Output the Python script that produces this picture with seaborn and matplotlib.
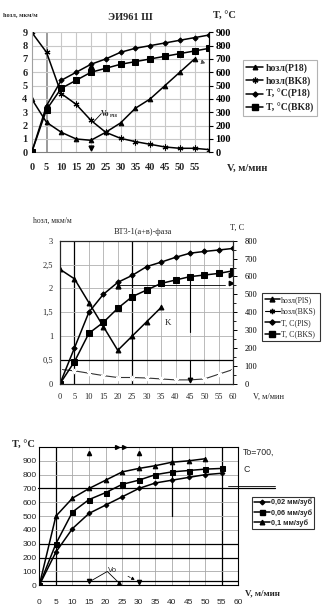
import matplotlib
matplotlib.use("Agg")
import matplotlib.pyplot as plt
from matplotlib.lines import Line2D
import seaborn as sns

# ---------------- data ----------------
V13 = [0, 5, 10, 15, 20, 25, 30, 35, 40, 45, 50, 55, 60]

# Panel 1: ЭИ961 Ш
p1_h_p18_v = [0, 5, 10, 15, 20, 25, 30, 35, 40, 45, 50, 55]
p1_h_p18 = [4.0, 2.25, 1.5, 1.0, 0.9, 1.5, 2.2, 3.3, 4.0, 5.0, 6.0, 7.0]
p1_h_bk8 = [9.0, 7.5, 4.4, 3.6, 2.4, 1.5, 1.05, 0.8, 0.6, 0.4, 0.3, 0.3, 0.2]
p1_t_p18 = [0, 350, 540, 600, 660, 700, 750, 780, 800, 820, 840, 860, 880]
p1_t_bk8 = [0, 320, 480, 540, 600, 630, 660, 680, 700, 720, 740, 760, 780]
p1_labels = ["hозл(P18)", "hозл(BK8)", "T, °C(P18)", "T, °C(BK8)"]

# Panel 2: ВТ3-1 (a+в)-фаза
p2_h_p18_v = [0, 5, 10, 15, 20, 25, 30, 35]
p2_h_p18 = [2.4, 2.2, 1.7, 1.2, 0.7, 1.0, 1.3, 1.6]
p2_h_bk8 = [0.3, 0.27, 0.22, 0.17, 0.13, 0.13, 0.12, 0.1, 0.08, 0.08, 0.1, 0.2, 0.3]
p2_t_p18 = [0, 200, 400, 500, 567, 606, 655, 680, 707, 730, 740, 748, 757]
p2_t_bk8 = [0, 123, 282, 343, 422, 487, 524, 561, 580, 599, 608, 617, 632]
p2_labels = ["hозл(PlS)", "hозл(BKS)", "T, C(PlS)", "T, C(BKS)"]

# Panel 3: T vs V for feeds
p3_v_a = [0, 5, 10, 15, 20, 25, 30, 35, 40, 45, 50, 55]
p3_t_002 = [0, 240, 410, 520, 580, 640, 700, 740, 760, 780, 800, 810]
p3_t_006 = [0, 300, 530, 620, 670, 730, 760, 800, 820, 830, 840, 845]
p3_v_c = [0, 5, 10, 15, 20, 25, 30, 35, 40, 45, 50]
p3_t_01 = [0, 500, 630, 700, 760, 820, 845, 865, 890, 900, 915]
p3_labels = ["0,02 мм/зуб", "0,06 мм/зуб", "0,1 мм/зуб"]

# ---------------- style ----------------
sns.set_theme(style="white")
plt.rcParams["font.family"] = ["Liberation Serif", "DejaVu Serif"]
plt.rcParams["axes.linewidth"] = 0.8

W, H = 332, 615
fig = plt.figure(figsize=(W / 100, H / 100), dpi=100)


def box(x0, x1, y_top, y_bot):
    return [x0 / W, 1 - y_bot / H, (x1 - x0) / W, (y_bot - y_top) / H]


SERIF = ["Liberation Serif", "DejaVu Serif"]
SANS = ["Liberation Sans", "DejaVu Sans"]
BLK = "black"

# ================= Panel 1 =================
ax1 = fig.add_axes(box(31.7, 209.3, 32.3, 152.3))
ax1.set_xlim(0, 60)
ax1.set_ylim(0, 9)
for v in range(5, 60, 5):
    ax1.axvline(v, color="#9a9a9a" if v == 5 else "#c8c8c8",
                lw=1.4 if v == 5 else 0.8, zorder=0)
for h in range(1, 10):
    ax1.axhline(h, color="#c8c8c8", lw=0.8, zorder=0)
ax1.spines["top"].set_visible(False)
ax1.spines["left"].set_color("#a0a0a0")
ax1.spines["bottom"].set_color("#808080")
ax1.spines["right"].set_color(BLK)

kw = dict(color=BLK, linewidth=1.1, markeredgecolor=BLK, legend=False)
sns.lineplot(x=p1_h_p18_v, y=p1_h_p18, ax=ax1, marker="^", markersize=3.3, **kw)
sns.lineplot(x=V13, y=p1_h_bk8, ax=ax1, marker=(6, 2, 0), markersize=4.2,
             markeredgewidth=0.8, **kw)
ax1r = ax1.twinx()
ax1r.set_ylim(0, 900)
sns.lineplot(x=V13, y=p1_t_p18, ax=ax1r, marker="D", markersize=2.6, **kw)
sns.lineplot(x=V13, y=p1_t_bk8, ax=ax1r, marker="s", markersize=3.8, **kw)
ax1r.set_xlim(0, 60)
for s in ["top", "left", "bottom"]:
    ax1r.spines[s].set_visible(False)
ax1r.spines["right"].set_color(BLK)

f1 = dict(family=SERIF, weight="bold", size=7.5)
ax1.set_yticks(range(10))
ax1.set_yticklabels([str(i) for i in range(10)], fontdict=f1)
ax1.set_xticks(range(0, 60, 5))
ax1.set_xticklabels([str(v) for v in range(0, 60, 5)], fontdict=f1)
ax1.tick_params(axis="y", length=0, pad=3)
ax1.tick_params(axis="x", length=0, pad=8)
ax1r.set_yticks(range(0, 901, 100))
ax1r.set_yticklabels([str(v) for v in range(0, 901, 100)], fontdict=f1)
ax1r.tick_params(axis="y", length=3, width=0.8, direction="out", pad=1.5,
                 colors=BLK)
ax1.set_xlabel("")
ax1.set_ylabel("")
ax1r.set_ylabel("")

# annotations panel 1
ax1.plot([20], [6.45], marker="^", color=BLK, markersize=3.5)
ax1.plot([20], [0.3], marker="v", color=BLK, markersize=3.5)
ax1.plot([21.0, 23.5], [2.3, 2.9], color=BLK, lw=0.6)
ax1.text(23.3, 2.75, "Vo", fontsize=5.5, family=SERIF, weight="bold")
ax1.text(26.3, 2.65, "P18", fontsize=3.5, family=SERIF, weight="bold")
ax1.annotate("", xy=(59.6, 6.6), xytext=(56.5, 6.85),
             arrowprops=dict(arrowstyle="-|>", lw=0.6, color="#555555",
                             linestyle="--", mutation_scale=6))

fig.text(3 / W, 1 - 15 / H, "hозл, мкм/м", family=SERIF, weight="bold",
         size=4.6, va="center")
fig.text(130 / W, 1 - 18 / H, "ЭИ961 Ш", family=SERIF, weight="bold",
         size=7.5, ha="center", va="center")
fig.text(213 / W, 1 - 15 / H, "T, °C", family=SERIF, weight="bold",
         size=7.5, va="center")
fig.text(227 / W, 1 - 168 / H, "V, м/мин", family=SERIF, weight="bold",
         size=7.5, va="center")

h1 = [Line2D([], [], color=BLK, lw=1.1, marker="^", markersize=3.3),
      Line2D([], [], color=BLK, lw=1.1, marker=(6, 2, 0), markersize=4.2),
      Line2D([], [], color=BLK, lw=1.1, marker="D", markersize=2.6),
      Line2D([], [], color=BLK, lw=1.1, marker="s", markersize=3.8)]
lg1 = fig.legend(h1, p1_labels, loc="upper left",
                 bbox_to_anchor=(243 / W, 1 - 60 / H),
                 prop=dict(family=SERIF, weight="bold", size=7),
                 frameon=True, fancybox=False, edgecolor="#a0a0a0",
                 handlelength=1.7, handletextpad=0.3, labelspacing=0.35,
                 borderpad=0.35, borderaxespad=0)
lg1.get_frame().set_linewidth(0.8)

# ================= Panel 2 =================
ax2 = fig.add_axes(box(60, 233.3, 240.7, 383.7))
ax2.set_xlim(0, 60)
ax2.set_ylim(0, 3)
for v in range(5, 60, 5):
    blackline = v in (5, 25)
    ax2.axvline(v, color=BLK if blackline else "#b0b0b0",
                lw=0.9 if blackline else 0.6, zorder=0)
for h in [0.5, 1.0, 1.5, 2.0, 2.5]:
    ax2.axhline(h, color=BLK if h == 0.5 else "#b0b0b0",
                lw=0.9 if h == 0.5 else 0.6, zorder=0)
for s in ax2.spines.values():
    s.set_color(BLK)

kw2 = dict(color=BLK, linewidth=1.1, markeredgecolor=BLK, legend=False)
sns.lineplot(x=p2_h_p18_v, y=p2_h_p18, ax=ax2, marker="^", markersize=3.5, **kw2)
sns.lineplot(x=V13, y=p2_h_bk8, ax=ax2, marker=(6, 2, 0), markersize=3.8,
             markeredgewidth=0.5, color="#333333", linewidth=0.8,
             legend=False)
ax2r = ax2.twinx()
ax2r.set_ylim(0, 800)
ax2r.set_xlim(0, 60)
sns.lineplot(x=V13, y=p2_t_p18, ax=ax2r, marker="D", markersize=2.7, **kw2)
sns.lineplot(x=V13, y=p2_t_bk8, ax=ax2r, marker="s", markersize=4, **kw2)

f2 = dict(family=SERIF, size=6)
ax2.set_yticks([0, 0.5, 1, 1.5, 2, 2.5, 3])
ax2.set_yticklabels(["0", "0,5", "1", "1,5", "2", "2,5", "3"], fontdict=f2)
ax2.set_xticks(range(0, 61, 5))
ax2.set_xticklabels([str(v) for v in range(0, 61, 5)], fontdict=f2)
ax2.tick_params(axis="y", length=0, pad=5)
ax2.tick_params(axis="x", length=0, pad=7)
ax2r.set_yticks(range(0, 801, 100))
ax2r.set_yticklabels([str(v) for v in range(0, 801, 100)], fontdict=f2)
ax2r.set_yticks(range(50, 800, 100), minor=True)
ax2r.tick_params(axis="y", which="major", length=3, width=0.7,
                 direction="out", pad=5, colors=BLK)
ax2r.tick_params(axis="y", which="minor", length=2, width=0.6,
                 direction="out", colors=BLK, left=False, right=True)
for a in (ax2, ax2r):
    a.set_xlabel("")
    a.set_ylabel("")

# annotations panel 2
ax2.plot([20], [2.05], marker="^", color=BLK, markersize=3.5)
ax2.plot([20, 57], [2.08, 2.08], color=BLK, lw=0.6)
ax2.plot([45, 45], [2.28, 1.09], color=BLK, lw=0.8)
ax2.plot([45, 45], [0.5, 0.05], color=BLK, lw=0.8)
ax2.plot([45], [0.08], marker="v", color=BLK, markersize=3.2)
ax2.plot([59.3, 59.3], [2.29, 2.12], ls="none", marker=">", color=BLK,
         markersize=3.2)
ax2.text(36.3, 1.28, "K", family=SERIF, size=6.5, va="center")

fig.text(33 / W, 1 - 221 / H, "hозл, мкм/м", family=SERIF, size=5.5,
         va="center")
fig.text(143 / W, 1 - 232 / H, "ВТ3-1(a+в)-фаза", family=SERIF, size=6,
         ha="center", va="center")
fig.text(230 / W, 1 - 228 / H, "T, C", family=SERIF, size=6, va="center")
fig.text(253 / W, 1 - 397 / H, "V, м/мин", family=SERIF, size=6,
         va="center")

h2 = [Line2D([], [], color=BLK, lw=1.1, marker="^", markersize=3.5),
      Line2D([], [], color=BLK, lw=0.8, marker=(6, 2, 0), markersize=3.8),
      Line2D([], [], color=BLK, lw=1.1, marker="D", markersize=2.7),
      Line2D([], [], color=BLK, lw=1.1, marker="s", markersize=4)]
lg2 = fig.legend(h2, p2_labels, loc="upper left",
                 bbox_to_anchor=(262 / W, 1 - 293 / H),
                 prop=dict(family=SERIF, size=5.7),
                 frameon=True, fancybox=False, edgecolor=BLK,
                 handlelength=1.9, handletextpad=0.2, labelspacing=0.45,
                 borderpad=0.35, borderaxespad=0)
lg2.get_frame().set_linewidth(0.8)

# ================= Panel 3 =================
ax3 = fig.add_axes(box(39.3, 238.3, 447, 585.3))
ax3.set_xlim(0, 60)
ax3.set_ylim(0, 1000)
for v in range(5, 60, 5):
    blackline = v in (5, 55)
    ax3.axvline(v, color=BLK if blackline else "#a8a8a8",
                lw=0.9 if blackline else 0.6, zorder=0)
for h in range(100, 1000, 100):
    blackline = h in (200, 300)
    ax3.axhline(h, color=BLK if blackline else "#a8a8a8",
                lw=0.9 if blackline else 0.6, zorder=0)
ax3.axhline(33, color=BLK, lw=0.9, zorder=0)
for s in ax3.spines.values():
    s.set_color(BLK)

kw3 = dict(color=BLK, linewidth=1.1, markeredgecolor=BLK, legend=False)
sns.lineplot(x=p3_v_a, y=p3_t_002, ax=ax3, marker="D", markersize=2.4, **kw3)
sns.lineplot(x=p3_v_a, y=p3_t_006, ax=ax3, marker="s", markersize=3.6, **kw3)
sns.lineplot(x=p3_v_c, y=p3_t_01, ax=ax3, marker="^", markersize=3.3, **kw3)

f3 = dict(family=SANS, size=6)
ax3.set_yticks(range(0, 901, 100))
ax3.set_yticklabels([str(v) for v in range(0, 901, 100)], fontdict=f3)
ax3.set_xticks(range(0, 61, 5))
ax3.set_xticklabels([str(v) for v in range(0, 61, 5)], fontdict=f3)
ax3.tick_params(axis="y", length=0, pad=2)
ax3.tick_params(axis="x", length=0, pad=10)
ax3.set_xlabel("")
ax3.set_ylabel("")

# annotations panel 3
ax3.plot([-0.5, 71], [700, 700], color=BLK, lw=0.9, clip_on=False)
ax3.plot([57, 71], [718, 718], color=BLK, lw=0.6, clip_on=False)
ax3.plot([40, 40], [1000, 500], color=BLK, lw=0.9)
ax3.plot([15, 30], [960, 960], ls="none", marker="^", color=BLK,
         markersize=3)
ax3.plot([23.3, 25.5], [1000, 1000], ls="none", marker=">", color=BLK,
         markersize=2.8, clip_on=False)
ax3.plot([15, 30], [28, 25], ls="none", marker="v", color=BLK,
         markersize=3)
ax3.plot([24], [18], marker="^", color=BLK, markersize=2.8)
ax3.plot([15.3, 20.5, 24], [28, 100, 18], color=BLK, lw=0.6)
ax3.annotate("", xy=(29.6, 28), xytext=(26, 75),
             arrowprops=dict(arrowstyle="-|>", lw=0.5, color=BLK,
                             linestyle="--", mutation_scale=5))
ax3.text(20.6, 110, "Vo", family=SANS, size=5.5, va="center")

fig.text(12 / W, 1 - 444 / H, "T, °C", family=SERIF, weight="bold",
         size=7.5, va="center")
fig.text(245 / W, 1 - 593 / H, "V, м/мин", family=SERIF, weight="bold",
         size=6.5, va="center")
fig.text(243 / W, 1 - 452 / H, "To=700,", family=SANS, size=6.3,
         va="center")
fig.text(243 / W, 1 - 469 / H, "C", family=SANS, size=6.3, va="center")

h3 = [Line2D([], [], color=BLK, lw=1.1, marker="D", markersize=2.4),
      Line2D([], [], color=BLK, lw=1.1, marker="s", markersize=3.6),
      Line2D([], [], color=BLK, lw=1.1, marker="^", markersize=3.3)]
lg3 = fig.legend(h3, p3_labels, loc="upper left",
                 bbox_to_anchor=(252 / W, 1 - 497 / H),
                 prop=dict(family=SANS, size=5.3, weight="bold"),
                 frameon=True, fancybox=False, edgecolor=BLK,
                 handlelength=2.2, handletextpad=0.1, labelspacing=0.35,
                 borderpad=0.25, borderaxespad=0)
lg3.get_frame().set_linewidth(0.8)

fig.savefig("out.png", dpi=100)
